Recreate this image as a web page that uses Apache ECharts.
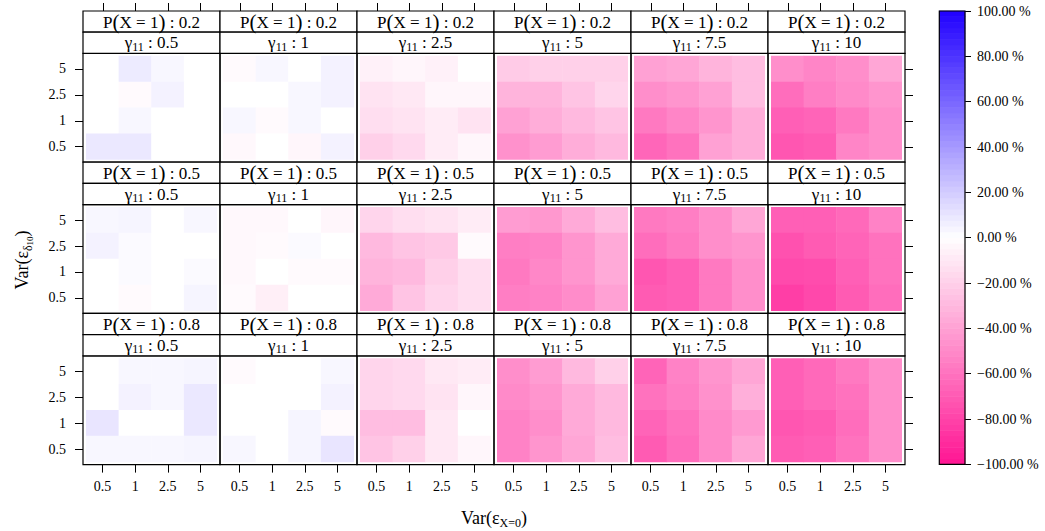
<!DOCTYPE html>
<html>
<head>
<meta charset="utf-8">
<script src="https://cdn.jsdelivr.net/npm/echarts@6/dist/echarts.min.js"></script>
<style>
  html, body { margin: 0; padding: 0; background: #ffffff; }
  #chart { width: 1045px; height: 531px; }
</style>
</head>
<body>
<div id="chart"></div>
<script>
// Axis categories
const xCats = ['0.5', '1', '2.5', '5'];        // Var(ε_X=0)
const yCats = ['0.5', '1', '2.5', '5'];        // Var(ε_δ10)
const pLevels = ['0.2', '0.5', '0.8'];         // P(X = 1), one per panel row
const gammaLevels = ['0.5', '1', '2.5', '5', '7.5', '10']; // γ11, one per panel column

// Relative bias (%) per panel. Each panel lists its rows from
// Var(ε_δ10) = 5 (top) down to 0.5 (bottom); columns run Var(ε_X=0) = 0.5, 1, 2.5, 5.
const biasP02 = [
  [[0, 8, 3, 0], [0, -2, 5, 0], [0, 3, 0, 0], [9, 9, 0, 0]],
  [[-2, 3, 0, 5], [0, 0, 3, 5], [3, -2, 3, 0], [-3, 0, -4, 5]],
  [[-6, -4, -6, 0], [-12, -10, -4, -4], [-14, -12, -8, -12], [-20, -16, -8, -4]],
  [[-22, -20, -20, -20], [-32, -32, -25, -18], [-40, -35, -30, -25], [-47, -42, -35, -30]],
  [[-40, -38, -32, -28], [-48, -45, -40, -28], [-57, -52, -45, -35], [-65, -60, -40, -35]],
  [[-48, -52, -48, -38], [-62, -55, -50, -45], [-68, -66, -57, -48], [-72, -70, -52, -48]]
];
const biasP05 = [
  [[3, 4, 0, 3], [5, 2, 0, 0], [0, 2, 0, 2], [0, -2, 0, 4]],
  [[-3, -3, 0, -4], [-3, -2, 2, 0], [-3, 0, -2, -2], [-2, -7, 0, 0]],
  [[-18, -14, -12, -8], [-30, -25, -23, -2], [-32, -30, -20, -14], [-36, -25, -18, -14]],
  [[-42, -44, -36, -28], [-55, -53, -45, -36], [-57, -51, -45, -36], [-55, -53, -49, -40]],
  [[-57, -55, -48, -38], [-62, -57, -48, -45], [-72, -68, -57, -48], [-70, -68, -57, -48]],
  [[-68, -68, -64, -53], [-74, -70, -66, -60], [-77, -76, -68, -60], [-82, -78, -70, -62]]
];
const biasP08 = [
  [[0, 3, 3, 4], [0, 5, 3, 9], [10, 0, 0, 9], [3, 3, 3, 4]],
  [[-2, 0, 0, 3], [0, 0, 0, 5], [0, 0, 4, -2], [3, 0, 4, 10]],
  [[-18, -16, -10, -8], [-18, -16, -12, -4], [-28, -28, -10, 0], [-25, -20, -10, -4]],
  [[-48, -42, -30, -20], [-50, -45, -36, -30], [-53, -48, -36, -30], [-53, -45, -38, -28]],
  [[-66, -53, -45, -38], [-60, -55, -47, -34], [-66, -60, -50, -43], [-70, -62, -50, -38]],
  [[-68, -64, -57, -48], [-68, -64, -60, -48], [-72, -70, -62, -48], [-70, -68, -60, -48]]
];
const biasRows = [biasP02, biasP05, biasP08];

// Colour key: bands of 2.5 % between -100 % and 100 %
const keyStep = 2.5;
const keyMids = [];
for (let v = -100 + keyStep / 2; v < 100; v += keyStep) keyMids.push(v);

// ---- layout ----
const FONT = "'Liberation Serif', 'DejaVu Serif', serif";
const LEFT = 83, PANEL_W = 137, TOP = 11, ROW_H = 151.2, STRIP_H = 21.2, PANEL_H = 108.8;
const padX = PANEL_W / 4.2 * 0.1;
const padY = PANEL_H / 4.2 * 0.1;
const bandX = (PANEL_W - 2 * padX) / xCats.length;
const bandY = (PANEL_H - 2 * padY) / yCats.length;
const TICK_LEN = 8;
const KEY = { left: 939.3, top: 11, width: 25.7, height: 453.4 };

const grids = [], xAxes = [], yAxes = [], series = [], graphics = [];
const tickStyle = { color: '#000', width: 1 };
const labelStyle = { color: '#000', fontFamily: FONT, fontSize: 14 };
const catTick = { show: true, interval: 0, alignWithLabel: true, length: TICK_LEN, lineStyle: tickStyle };

biasRows.forEach((panels, r) => {
  panels.forEach((panel, c) => {
    const g = grids.length;
    const boxX = LEFT + c * PANEL_W;
    const stripY = TOP + r * ROW_H;
    const boxY = stripY + 2 * STRIP_H;

    grids.push({
      left: boxX + padX, top: boxY + padY,
      width: PANEL_W - 2 * padX, height: PANEL_H - 2 * padY
    });
    xAxes.push({
      type: 'category', gridIndex: g, data: xCats,
      show: r === 2, position: 'bottom', offset: padY,
      axisLine: { show: false },
      axisTick: catTick,
      axisLabel: Object.assign({ show: true, margin: 15 }, labelStyle),
      splitLine: { show: false }, splitArea: { show: false }
    });
    yAxes.push({
      type: 'category', gridIndex: g, data: yCats,
      show: c === 0, position: 'left', offset: padX,
      axisLine: { show: false },
      axisTick: catTick,
      axisLabel: Object.assign({ show: true, margin: 17 }, labelStyle),
      splitLine: { show: false }, splitArea: { show: false }
    });

    const data = [];
    panel.forEach((row, ri) => {
      row.forEach((v, xi) => data.push([xi, yCats.length - 1 - ri, v]));
    });
    series.push({
      type: 'heatmap', xAxisIndex: g, yAxisIndex: g, data: data,
      itemStyle: { borderWidth: 0 }, emphasis: { disabled: true }
    });

    // panel box
    graphics.push({
      type: 'rect', z: 10, silent: true,
      shape: { x: boxX, y: boxY, width: PANEL_W, height: PANEL_H },
      style: { fill: null, stroke: '#000', lineWidth: 1.2 }
    });
    // strip 1: P(X = 1)
    graphics.push({
      type: 'rect', z: 10, silent: true,
      shape: { x: boxX, y: stripY, width: PANEL_W, height: STRIP_H },
      style: { fill: '#fff', stroke: '#000', lineWidth: 1.2 }
    });
    graphics.push({
      type: 'text', z: 11, silent: true, x: boxX + PANEL_W / 2, y: stripY + STRIP_H / 2 + 0.5,
      style: {
        text: '{t|P}{p|(}{t|X = 1}{p|)}{t| : ' + pLevels[r] + '}',
        align: 'center', verticalAlign: 'middle', textAlign: 'center', textVerticalAlign: 'middle',
        fill: '#000',
        rich: {
          t: { fontFamily: FONT, fontSize: 17, fill: '#000', lineHeight: 19 },
          p: { fontFamily: FONT, fontSize: 21, fill: '#000', lineHeight: 19 }
        }
      }
    });
    // strip 2: γ11
    graphics.push({
      type: 'rect', z: 10, silent: true,
      shape: { x: boxX, y: stripY + STRIP_H, width: PANEL_W, height: STRIP_H },
      style: { fill: '#fff', stroke: '#000', lineWidth: 1.2 }
    });
    graphics.push({
      type: 'text', z: 11, silent: true, x: boxX + PANEL_W / 2, y: stripY + 1.5 * STRIP_H,
      style: {
        text: '{t|γ}{s|11}{t| : ' + gammaLevels[c] + '}',
        align: 'center', verticalAlign: 'middle', textAlign: 'center', textVerticalAlign: 'middle',
        fill: '#000',
        rich: {
          t: { fontFamily: FONT, fontSize: 17, fill: '#000', lineHeight: 20, verticalAlign: 'middle' },
          s: { fontFamily: FONT, fontSize: 12, fill: '#000', lineHeight: 17, verticalAlign: 'bottom' }
        }
      }
    });
  });
});

// ---- tick marks above the first row of strips and right of the last column ----
gammaLevels.forEach((gl, c) => {
  xCats.forEach((xc, i) => {
    const x = Math.round(LEFT + c * PANEL_W + padX + (i + 0.5) * bandX) + 0.5;
    graphics.push({
      type: 'line', z: 10, silent: true,
      shape: { x1: x, y1: TOP - TICK_LEN, x2: x, y2: TOP },
      style: { stroke: '#000', lineWidth: 1 }
    });
  });
});
pLevels.forEach((pl, r) => {
  const boxY = TOP + r * ROW_H + 2 * STRIP_H;
  const x0 = LEFT + gammaLevels.length * PANEL_W;
  yCats.forEach((yc, i) => {
    const y = Math.round(boxY + padY + (i + 0.5) * bandY) + 0.5;
    graphics.push({
      type: 'line', z: 10, silent: true,
      shape: { x1: x0, y1: y, x2: x0 + TICK_LEN, y2: y },
      style: { stroke: '#000', lineWidth: 1 }
    });
  });
});

// ---- colour key ----
const kg = grids.length;
grids.push({ left: KEY.left, top: KEY.top, width: KEY.width, height: KEY.height });
const keyXAxis = xAxes.length;
xAxes.push({ type: 'category', gridIndex: kg, data: [''], show: false });
const keyCatAxis = yAxes.length;
yAxes.push({ type: 'category', gridIndex: kg, data: keyMids.map(String), show: false });
yAxes.push({
  type: 'value', gridIndex: kg, min: -100, max: 100, interval: 20, position: 'right',
  axisLine: { show: false },
  axisTick: { show: true, length: 6, lineStyle: tickStyle },
  axisLabel: Object.assign({
    margin: 12,
    formatter: v => (v < 0 ? '\u2212' : '') + Math.abs(v).toFixed(2) + ' %'
  }, labelStyle),
  splitLine: { show: false }
});
series.push({
  type: 'heatmap', xAxisIndex: keyXAxis, yAxisIndex: keyCatAxis,
  data: keyMids.map((v, i) => [0, i, v]),
  itemStyle: { borderWidth: 0 }, emphasis: { disabled: true }
});
graphics.push({
  type: 'rect', z: 10, silent: true,
  shape: { x: KEY.left, y: KEY.top, width: KEY.width, height: KEY.height },
  style: { fill: null, stroke: '#000', lineWidth: 1.2 }
});

// ---- axis titles ----
graphics.push({
  type: 'text', z: 11, silent: true, x: 494, y: 518,
  style: {
    text: '{t|Var(ε}{s|X=0}{t|)}',
    align: 'center', verticalAlign: 'middle', textAlign: 'center', textVerticalAlign: 'middle',
    rich: {
      t: { fontFamily: FONT, fontSize: 18, fill: '#000', lineHeight: 22, verticalAlign: 'middle' },
      s: { fontFamily: FONT, fontSize: 12, fill: '#000', lineHeight: 14, verticalAlign: 'bottom' }
    }
  }
});
graphics.push({
  type: 'text', z: 11, silent: true, x: 22, y: 260, rotation: Math.PI / 2,
  style: {
    text: '{t|Var(ε}{s|δ}{ss|10}{t|)}',
    align: 'center', verticalAlign: 'middle', textAlign: 'center', textVerticalAlign: 'middle',
    rich: {
      t: { fontFamily: FONT, fontSize: 18, fill: '#000', lineHeight: 24, verticalAlign: 'middle' },
      s: { fontFamily: FONT, fontSize: 12, fill: '#000', lineHeight: 16, verticalAlign: 'bottom' },
      ss: { fontFamily: FONT, fontSize: 9, fill: '#000', lineHeight: 10, verticalAlign: 'bottom' }
    }
  }
});

const chart = echarts.init(document.getElementById('chart'), null, { renderer: 'svg' });
chart.setOption({
  animation: false,
  backgroundColor: '#ffffff',
  grid: grids,
  xAxis: xAxes,
  yAxis: yAxes,
  visualMap: {
    type: 'continuous', min: -100, max: 100, show: false,
    seriesIndex: series.map((s, i) => i),
    inRange: { color: ['#ff1493', '#ffffff', '#2000ff'] }
  },
  series: series,
  graphic: graphics
});
</script>
</body>
</html>
